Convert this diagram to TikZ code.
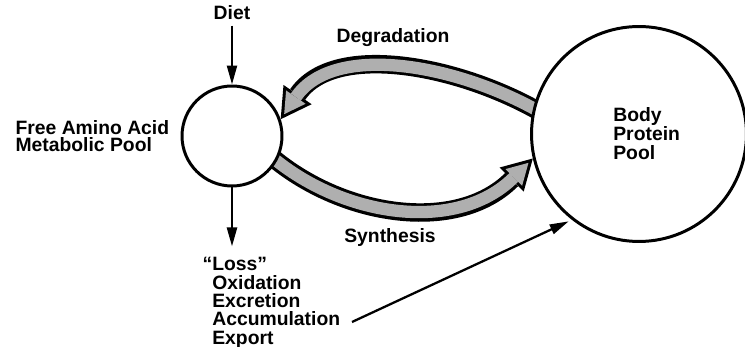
\documentclass[tikz,border=0pt]{standalone}
\usepackage{fontspec}
\setmainfont{Liberation Sans}
\usetikzlibrary{arrows.meta,positioning,backgrounds}
\definecolor{stipple}{RGB}{175,175,175}

\begin{document}
\begin{tikzpicture}[x=0.02cm,y=-0.02cm]
  \tikzstyle{pool}=[draw,line width=1.7pt,circle,fill=white,inner sep=0pt]
  \tikzstyle{lbl}=[inner sep=0pt,align=left,font=\fontsize{11}{10.5}\selectfont\bfseries]
  \tikzstyle{flow}=[-{Triangle[length=0.38cm,width=0.2cm]},line width=1.3pt]
  \tikzstyle{bandout}=[line width=10.5pt,shorten <=-10pt,
    -{Triangle[length=17pt,width=19.4pt,line width=0pt]}]
  \tikzstyle{bandin}=[line width=7pt,stipple,shorten <=-10pt,shorten >=3.5pt,
    -{Triangle[length=11.75pt,width=13.4pt,line width=0pt]}]

  \useasboundingbox (0,0) rectangle (745,347);

  % -- Pools --
  \node[pool,minimum size=2cm] (pool) at (232,136) {};
  \node[pool,minimum size=4.3cm] (body) at (639,134) {};
  \node[lbl,font=\fontsize{11}{10.8}\selectfont\bfseries,anchor=west] (bodytext)
    at ([xshift=-0.52cm]body.center) {Body\\ Protein\\ Pool};
  \node[lbl,font=\fontsize{11}{9.8}\selectfont\bfseries,left=0.22cm of pool] (free)
    {Free Amino Acid\\ Metabolic Pool};

  % -- Inputs and outputs --
  \node[lbl] (diet) at (232,13) {Diet};
  \node[lbl,anchor=north west] (loss) at (212,257)
    {\llap{``}Loss''\\ Oxidation\\ Excretion\\ Accumulation\\ Export};
  \coordinate (accum) at (352,322);

  % -- Exchange labels --
  \node[lbl] (degr) at (393,38) {Degradation};
  \node[lbl] (synth) at (390,238) {Synthesis};

  % -- Flows --
  \draw[flow,shorten <=3pt] (diet) -- (pool);
  \draw[flow,shorten >=6pt] (pool) -- (pool |- loss.north);
  \draw[flow,shorten >=2pt] (accum) -- (body.232);

  % -- Wide exchange arrows --
  \begin{scope}[on background layer]
    \draw[bandout] (body.166) .. controls (465,66) and (335,40) .. (pool.19);
    \draw[bandin] (body.166) .. controls (465,66) and (335,40) .. (pool.19);
    \draw[bandout] (pool.-30) .. controls (335,216) and (455,236) .. (body.193);
    \draw[bandin] (pool.-30) .. controls (335,216) and (455,236) .. (body.193);
  \end{scope}
\end{tikzpicture}
\end{document}
